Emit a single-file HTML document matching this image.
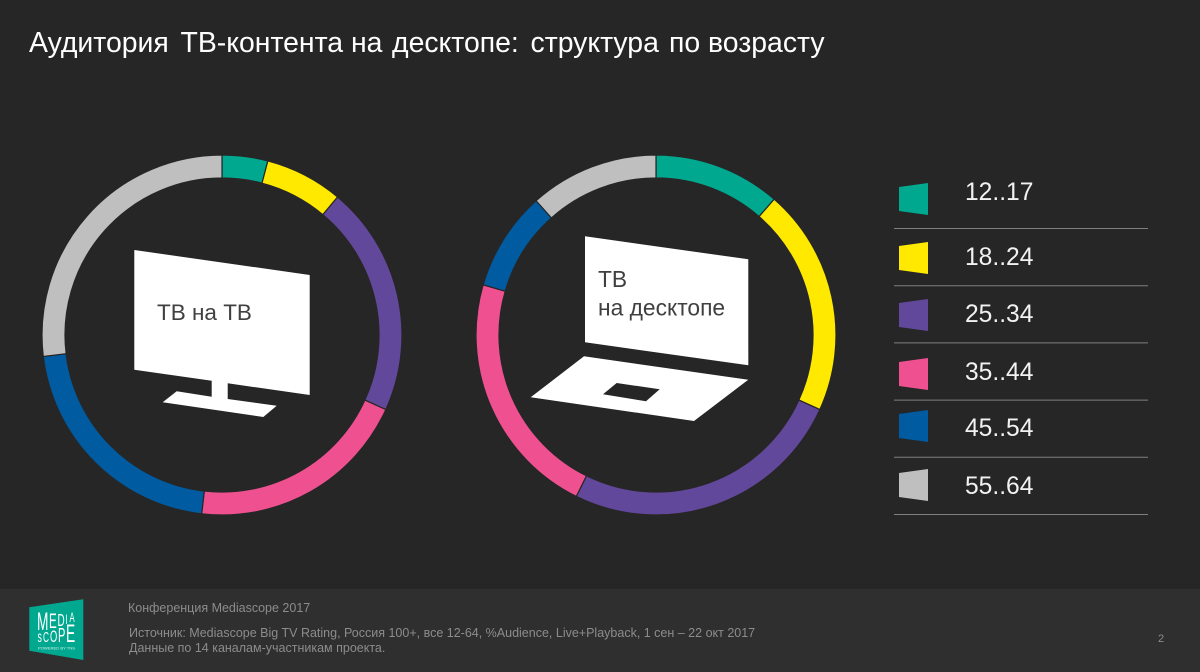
<!DOCTYPE html>
<html lang="ru">
<head>
<meta charset="utf-8">
<title>Аудитория ТВ-контента на десктопе</title>
<style>
html,body{margin:0;padding:0;background:#262626;}
svg{display:block;}
text{font-family:"Liberation Sans","Noto Sans CJK JP",sans-serif;}
</style>
</head>
<body>
<svg id="chart" xmlns="http://www.w3.org/2000/svg" width="1200" height="672" viewBox="0 0 1200 672">
  <rect x="0" y="0" width="1200" height="672" fill="#262626"/>
  <rect x="0" y="589" width="1200" height="83" fill="#2f2f2f"/>
  <text y="52" font-size="28.4" fill="#ffffff"><tspan x="29">Аудитория</tspan> <tspan x="180.5">ТВ-контента</tspan> <tspan x="351">на</tspan> <tspan x="392">десктопе:</tspan> <tspan x="530.5">структура</tspan> <tspan x="669">по</tspan> <tspan x="708">возрасту</tspan></text>

  <g>
    <polygon fill="#ffffff" points="134.3,250 309.7,275 309.7,395 227.7,383.3 227.7,399 276.7,405.7 263.3,417 162.7,402.3 176.7,391.3 211.7,396.7 211.7,380.7 134.3,369.7"/>
    <text x="157" y="320" font-size="22.5" fill="#404040">ТВ на ТВ</text>
  </g>

  <g>
    <polygon fill="#ffffff" points="585,236.3 748.3,259.3 748.3,365.3 585,342.3"/>
    <polygon fill="#ffffff" points="584,356.3 748.3,379.7 694,421 530.7,397.3"/>
    <polygon fill="#262626" points="616.7,383 659.7,389.3 646,401.3 603,394.3"/>
    <text x="598" y="287" font-size="22.8" fill="#404040">ТВ</text>
    <text x="598" y="315.5" font-size="22.8" fill="#404040">на десктопе</text>
  </g>

  <g id="rings"></g>
  <g id="legend"></g>

  <g>
    <polygon fill="#00a88f" points="29.3,607.3 83.3,599.3 83.3,660 29.3,650.7"/>
    <text fill="#ffffff" transform="translate(37 0) scale(.55 1)"><tspan x="0" y="630" font-size="25">M</tspan><tspan x="21.8" y="628" font-size="21">E</tspan><tspan x="37.3" y="626" font-size="18">D</tspan><tspan x="51.8" y="624" font-size="14">I</tspan><tspan x="59.1" y="622" font-size="14">A</tspan></text>
    <text fill="#ffffff" transform="translate(37 0) scale(.55 1)"><tspan x=".9" y="642" font-size="16">s</tspan><tspan x="10.9" y="642" font-size="15">C</tspan><tspan x="23.6" y="642" font-size="17">O</tspan><tspan x="38.2" y="642" font-size="20">P</tspan><tspan x="52.7" y="642" font-size="25">E</tspan></text>
    <text x="38" y="649.5" font-size="3.5" fill="#d8f2ee" textLength="37" lengthAdjust="spacingAndGlyphs">POWERED BY TNS</text>
  </g>

  <text x="128" y="612" font-size="12.5" fill="#8c8c8c">Конференция Mediascope 2017</text>
  <text x="129" y="637" font-size="12.5" fill="#8c8c8c">Источник: Mediascope Big TV Rating, Россия 100+, все 12-64, %Audience, Live+Playback, 1 сен – 22 окт 2017</text>
  <text x="129" y="652" font-size="12.5" fill="#8c8c8c">Данные по 14 каналам-участникам проекта.</text>
  <text x="1158" y="642" font-size="11" fill="#8c8c8c">2</text>
</svg>
<script>
var categories = ['12..17', '18..24', '25..34', '35..44', '45..54', '55..64'];
var tvShares = [4.1, 7.0, 20.7, 20.0, 21.3, 26.9];
var desktopShares = [11.4, 20.4, 25.5, 22.2, 8.9, 11.6];
var colors = ['#00a88f', '#ffe900', '#62489b', '#ef5190', '#005ba0', '#bfbfbf'];

var NS = 'http://www.w3.org/2000/svg';
var OUTER = 180, INNER = 157;

function angleOf(share, total) {
  return share / total * 2 * Math.PI;
}
function polar(cx, cy, r, a) {
  return [cx + r * Math.sin(a), cy - r * Math.cos(a)];
}
function sectorPath(cx, cy, a0, a1) {
  var large = a1 - a0 > Math.PI ? 1 : 0;
  var p1 = polar(cx, cy, OUTER, a0), p2 = polar(cx, cy, OUTER, a1);
  var p3 = polar(cx, cy, INNER, a1), p4 = polar(cx, cy, INNER, a0);
  return 'M' + p1[0] + ' ' + p1[1] +
    'A' + OUTER + ' ' + OUTER + ' 0 ' + large + ' 1 ' + p2[0] + ' ' + p2[1] +
    'L' + p3[0] + ' ' + p3[1] +
    'A' + INNER + ' ' + INNER + ' 0 ' + large + ' 0 ' + p4[0] + ' ' + p4[1] + 'Z';
}
function drawRing(values, cx, cy, prefix) {
  var parent = document.getElementById('rings');
  var total = values.reduce(function (s, v) { return s + v; }, 0);
  var acc = 0;
  values.forEach(function (v, i) {
    var a0 = angleOf(acc, total);
    acc += v;
    var a1 = angleOf(acc, total);
    var path = document.createElementNS(NS, 'path');
    path.setAttribute('d', sectorPath(cx, cy, a0, a1));
    path.setAttribute('fill', colors[i]);
    path.setAttribute('stroke', '#262626');
    path.setAttribute('stroke-width', '1.2');
    
    
    parent.appendChild(path);
  });
}
drawRing(tvShares, 222, 335, 'tv');
drawRing(desktopShares, 656, 335, 'desktop');

function drawLegend() {
  var parent = document.getElementById('legend');
  var x0 = 899, x1 = 928;
  var swatchTops = [183, 242, 299, 358, 410, 469];
  var labelBaselines = [200, 265, 322, 380, 436, 494];
  categories.forEach(function (c, i) {
    var y = swatchTops[i];
    var sw = document.createElementNS(NS, 'polygon');
    sw.setAttribute('points', x0 + ',' + (y + 4) + ' ' + x1 + ',' + y + ' ' + x1 + ',' + (y + 32) + ' ' + x0 + ',' + (y + 28));
    sw.setAttribute('fill', colors[i]);
    
    
    parent.appendChild(sw);
    var t = document.createElementNS(NS, 'text');
    t.setAttribute('x', '965');
    t.setAttribute('y', String(labelBaselines[i]));
    t.setAttribute('font-size', '24.6');
    t.setAttribute('fill', '#f2f2f2');
    t.textContent = c;
    
    
    parent.appendChild(t);
    var ln = document.createElementNS(NS, 'line');
    ln.setAttribute('x1', '894');
    ln.setAttribute('x2', '1148');
    ln.setAttribute('y1', String(228.5 + i * 57.2));
    ln.setAttribute('y2', String(228.5 + i * 57.2));
    ln.setAttribute('stroke', '#7f7f7f');
    ln.setAttribute('stroke-width', '1');
    
    
    parent.appendChild(ln);
  });
}
drawLegend();
</script>
</body>
</html>
